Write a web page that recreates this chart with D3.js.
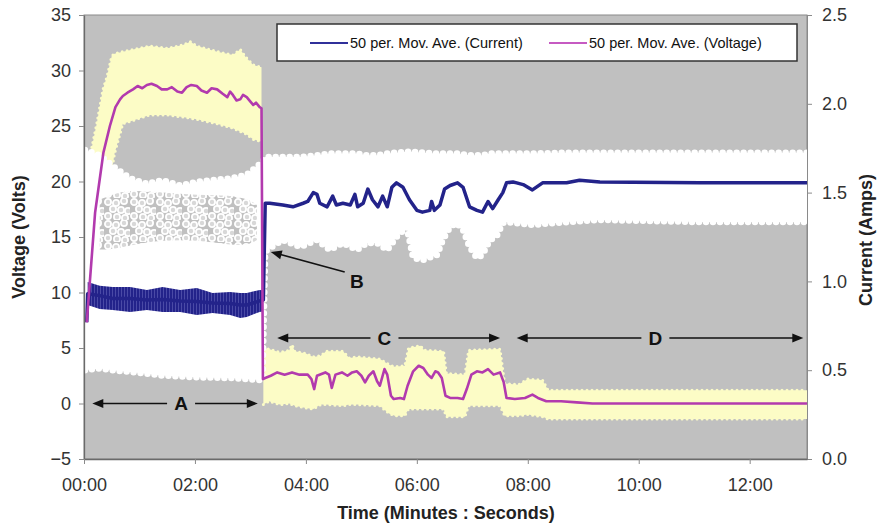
<!DOCTYPE html>
<html>
<head>
<meta charset="utf-8">
<script src="https://cdn.jsdelivr.net/npm/d3@7/dist/d3.min.js"></script>
<style>
  html, body { margin: 0; padding: 0; background: #fff; }
  svg text { font-family: "Liberation Sans", Arial, Helvetica, sans-serif; }
</style>
</head>
<body>
<svg id="chart" width="882" height="524"></svg>
<script>
// ---------- axis ticks ----------
const voltageTicks = [-5, 0, 5, 10, 15, 20, 25, 30, 35];
const currentTicks = [0, 0.5, 1.0, 1.5, 2.0, 2.5];
const timeTicks = [0, 120, 240, 360, 480, 600, 720];   // seconds
const timeMax = 782;

// ---------- voltage, 50-point moving average (time s, volts) ----------
const vMaTime = [3, 12, 17, 21, 28, 34, 39, 42, 47, 53, 58, 63, 68, 73, 79, 84, 90, 95, 101, 106,
  111, 116, 122, 127, 133, 138, 144, 150, 155, 158, 161, 165, 169, 172, 176, 180, 183, 186, 190, 192,
  193.5, 196, 202, 209, 217, 225, 233, 242, 246, 249, 252, 261, 265, 268, 272, 279, 285, 290, 295,
  300, 304, 308, 313, 317, 320, 325, 328, 332, 335, 342, 346, 350, 356, 362, 367, 372, 376, 380,
  383, 387, 391, 396, 404, 410, 414, 419, 425, 431, 437, 443, 450, 454, 457, 466, 477, 485, 491,
  500, 516, 533, 550, 782];
const vMa = [7.3, 17.2, 20.2, 22.6, 25.0, 26.7, 27.4, 27.7, 28.0, 28.3, 28.6, 28.4, 28.7, 28.8, 28.6, 28.3, 28.3, 28.5, 28.1, 28.0,
  28.5, 28.7, 28.6, 28.2, 28.0, 28.4, 28.3, 27.9, 27.6, 28.1, 27.8, 27.3, 27.4, 27.8, 27.6, 27.2, 26.9, 27.1, 26.7, 26.6,
  2.2, 2.3, 2.5, 2.8, 2.6, 2.8, 2.6, 2.6, 2.2, 1.3, 2.5, 2.8, 2.6, 1.4, 2.6, 2.8, 2.5, 2.8, 2.9,
  2.5, 1.9, 2.5, 2.9, 2.0, 1.6, 3.1, 2.6, 0.7, 0.4, 0.5, 0.4, 1.6, 2.9, 3.4, 3.2, 2.6, 2.3, 2.9,
  2.8, 2.3, 0.7, 0.5, 0.5, 0.4, 1.3, 2.6, 2.9, 2.8, 3.1, 2.6, 2.8, 1.9, 0.5, 0.4, 0.5, 0.8, 0.5,
  0.2, 0.2, 0.1, 0.0, 0.0];

// ---------- raw voltage samples: upper / lower envelope (volts) ----------
const vRawTime = [3, 6.5, 14, 20.5, 25, 30, 33, 42, 53, 71, 90, 107, 115, 122, 144, 161, 169, 175, 183, 192,
  null,
  194, 200, 212, 222, 225, 228, 240, 248, 256, 262, 280, 287, 296, 320, 330, 336, 347, 351, 364, 368,
  389, 392, 412, 416, 450, 455, 470, 480, 496, 502, 782];
const vRawHi = [17.7, 22.3, 25.3, 28.3, 29.5, 31.3, 31.5, 31.7, 31.9, 32.2, 32.0, 32.3, 32.6, 32.2, 31.7, 31.4, 31.9, 31.2, 30.5, 30.3,
  null,
  5.0, 4.9, 4.6, 4.8, 5.3, 4.7, 4.5, 4.2, 4.3, 4.7, 4.7, 4.1, 4.2, 4.0, 3.5, 3.3, 3.4, 5.0, 5.2, 4.8,
  4.7, 2.7, 2.6, 4.8, 4.9, 1.8, 1.7, 2.2, 2.1, 1.2, 1.2];
const vRawLo = [4, 6, 12, 16, 19, 21, 22.5, 25.2, 25.5, 26.0, 26.0, 25.8, 25.7, 25.6, 25.2, 24.8, 24.5, 24.3, 23.8, 23.6,
  null,
  -0.1, 0.2, -0.1, 0.0, -0.1, -0.2, -0.4, -0.5, -0.1, -0.1, -0.2, -0.1, -0.1, -0.2, -0.9, -1.1, -1.1, -0.5, -0.5, -0.5,
  -0.5, -1.2, -1.2, -0.2, -0.2, -1.1, -1.1, -1.0, -1.2, -1.4, -1.4];

// ---------- current, 50-point moving average (time s, amps) ----------
const iMaTime = [3, 4, 17, 31, 50, 68, 85, 104, 122, 139, 158, 169, 176, 190, 194,
  196, 201, 215, 226, 237, 242, 248, 252, 255, 263, 269, 273, 280, 288, 293, 296, 302, 307, 312, 318,
  323, 328, 333, 338, 345, 352, 360, 366, 374, 376, 379, 385, 390, 396, 404, 410, 417, 425, 431, 437,
  442, 448, 453, 457, 464, 468, 475, 485, 496, 522, 536, 558, 666, 782];
const iMa = [0.77, 0.93, 0.92, 0.904, 0.904, 0.895, 0.898, 0.89, 0.887, 0.878, 0.876, 0.867, 0.867, 0.89, 0.895,
  1.44, 1.44, 1.43, 1.42, 1.44, 1.45, 1.50, 1.49, 1.44, 1.42, 1.48, 1.43, 1.44, 1.43, 1.49, 1.42, 1.44, 1.52, 1.46, 1.42,
  1.48, 1.42, 1.53, 1.555, 1.53, 1.46, 1.40, 1.39, 1.40, 1.45, 1.40, 1.43, 1.52, 1.54, 1.555, 1.53, 1.42, 1.40, 1.39, 1.45,
  1.41, 1.46, 1.50, 1.555, 1.56, 1.555, 1.545, 1.515, 1.555, 1.555, 1.57, 1.56, 1.555, 1.555];

// swing of the current moving average during the first stage (amps)
const iSwingTime = [4, 17, 31, 50, 68, 85, 104, 122, 139, 158, 169, 176, 190, 193];
const iSwingHi = [0.997, 0.975, 0.968, 0.968, 0.952, 0.968, 0.952, 0.963, 0.935, 0.941, 0.935, 0.935, 0.952, 0.95];
const iSwingLo = [0.867, 0.845, 0.839, 0.828, 0.839, 0.828, 0.828, 0.811, 0.822, 0.811, 0.794, 0.80, 0.828, 0.83];

// ---------- raw current samples: upper / lower envelope (amps) ----------
const iRawTime = [1, 17, 31, 50, 68, 85, 104, 122, 139, 158, 176, 190, 193,
  196, 198, 215, 234, 252, 266, 280, 295, 306, 317, 328, 338, 349, 356, 366, 382, 388, 396, 403,
  410, 417, 425, 431, 439, 446, 453, 457, 485, 522, 558, 666, 782];
const iRawHi = [1.74, 1.71, 1.65, 1.58, 1.55, 1.57, 1.54, 1.56, 1.57, 1.58, 1.60, 1.66, 1.67,
  1.70, 1.70, 1.70, 1.70, 1.71, 1.72, 1.72, 1.72, 1.71, 1.71, 1.72, 1.725, 1.73, 1.73, 1.725, 1.72, 1.72, 1.72, 1.72,
  1.715, 1.71, 1.71, 1.71, 1.72, 1.72, 1.72, 1.72, 1.72, 1.725, 1.725, 1.725, 1.725];
const iRawLo = [0.50, 0.51, 0.50, 0.49, 0.48, 0.47, 0.465, 0.46, 0.458, 0.456, 0.45, 0.445, 0.445,
  1.16, 1.177, 1.233, 1.194, 1.233, 1.177, 1.216, 1.177, 1.216, 1.216, 1.177, 1.25, 1.306, 1.132, 1.12, 1.149, 1.233, 1.306, 1.329,
  1.289, 1.194, 1.132, 1.149, 1.233, 1.25, 1.329, 1.334, 1.318, 1.334, 1.346, 1.334, 1.334];

// sparse middle of the raw current cloud during the first stage (amps)
const iGapTime = [17, 31, 50, 85, 122, 158, 179, 187];
const iGapHi = [1.46, 1.49, 1.515, 1.50, 1.486, 1.486, 1.46, 1.43];
const iGapLo = [1.18, 1.18, 1.205, 1.233, 1.233, 1.205, 1.205, 1.233];

// ---------- stage markers ----------
const stages = [
  { label: "A", t0: 9, t1: 188, v: 0, tl: 105 },
  { label: "C", t0: 209, t1: 450, v: 5.9, tl: 325 },
  { label: "D", t0: 468, t1: 778, v: 5.9, tl: 618 }
];
const pointerB = { label: "B", tipT: 202, tipI: 1.166, tailT: 282, tailI: 1.053, labT: 295, labI: 1.0 };

// ---------- layout ----------
const svg = d3.select("#chart");
const plotL = 84, plotR = 807, plotT = 15, plotB = 459;
const x = d3.scaleLinear().domain([0, timeMax]).range([plotL, plotR]);
const yV = d3.scaleLinear().domain([-5, 35]).range([plotB, plotT]);
const yI = d3.scaleLinear().domain([0, 2.5]).range([plotB, plotT]);

const GREY = "#c0c0c0";
const BLUE = "#23238a";
const MAGENTA = "#b23aae";
const YELLOW = "#fcfcc6";

const defs = svg.append("defs");
defs.append("clipPath").attr("id", "plotClip")
  .append("rect").attr("x", plotL).attr("y", plotT).attr("width", plotR - plotL).attr("height", plotB - plotT);

// open ring markers scattered on grey for the sparse part of the current cloud
const poreTile = [26, 22];
const poreRings = [[4, 4], [12, 5], [20, 3], [9, 11], [17, 12], [24, 13], [4, 18], [13, 19], [21, 20]];
const pores = defs.append("pattern").attr("id", "pores")
  .attr("patternUnits", "userSpaceOnUse").attr("width", poreTile[0]).attr("height", poreTile[1]);
pores.append("rect").attr("width", poreTile[0]).attr("height", poreTile[1]).attr("fill", GREY);
poreRings.forEach(([cx, cy]) => {
  pores.append("circle").attr("cx", cx).attr("cy", cy).attr("r", 3.1)
    .attr("fill", "#d8d8d8").attr("stroke", "#fff").attr("stroke-width", 1.8);
});

// fine vertical streaks for the oscillating current average
const streaks = defs.append("pattern").attr("id", "streaks")
  .attr("patternUnits", "userSpaceOnUse").attr("width", 3).attr("height", 20);
streaks.append("rect").attr("width", 3).attr("height", 20).attr("fill", BLUE);
streaks.append("rect").attr("x", 1).attr("width", 1).attr("height", 20).attr("fill", "#4a4aa6");

// plot background
svg.append("rect").attr("x", plotL).attr("y", plotT).attr("width", plotR - plotL).attr("height", plotB - plotT)
  .attr("fill", GREY).attr("stroke", "#8a8a8a").attr("stroke-width", 1);

const plot = svg.append("g").attr("clip-path", "url(#plotClip)");

function zip(ts, a, b) {
  return ts.map((t, i) => ({ t, a: a[i], b: b ? b[i] : null }));
}

// raw voltage envelope
const vRaw = zip(vRawTime, vRawHi, vRawLo);
plot.append("path").datum(vRaw)
  .attr("fill", YELLOW)
  .attr("d", d3.area().defined(d => d.t !== null)
    .x(d => x(d.t)).y0(d => yV(d.b)).y1(d => yV(d.a)));
[d => yV(d.a), d => yV(d.b)].forEach(yf => {
  plot.append("path").datum(vRaw)
    .attr("fill", "none").attr("stroke", YELLOW).attr("stroke-width", 3)
    .attr("stroke-dasharray", "0 5").attr("stroke-linecap", "round")
    .attr("d", d3.line().defined(d => d.t !== null).x(d => x(d.t)).y(yf));
});

// raw current envelope
const iRaw = zip(iRawTime, iRawHi, iRawLo);
plot.append("path").datum(iRaw)
  .attr("fill", "#fff")
  .attr("d", d3.area().x(d => x(d.t)).y0(d => yI(d.b)).y1(d => yI(d.a)));
// ring-shaped markers make the cloud edges scalloped
[d => yI(d.a), d => yI(d.b)].forEach(yf => {
  plot.append("path").datum(iRaw)
    .attr("fill", "none").attr("stroke", "#fff").attr("stroke-width", 6.5)
    .attr("stroke-dasharray", "0 7").attr("stroke-linecap", "round")
    .attr("d", d3.line().x(d => x(d.t)).y(yf));
});
plot.append("path").datum(zip(iGapTime, iGapHi, iGapLo))
  .attr("fill", "url(#pores)")
  .attr("d", d3.area().curve(d3.curveBasis).x(d => x(d.t)).y0(d => yI(d.b)).y1(d => yI(d.a)));

// current moving average
plot.append("path").datum(zip(iSwingTime, iSwingHi, iSwingLo))
  .attr("fill", "url(#streaks)")
  .attr("d", d3.area().x(d => x(d.t)).y0(d => yI(d.b)).y1(d => yI(d.a)));
plot.append("path").datum(zip(iMaTime, iMa))
  .attr("fill", "none").attr("stroke", BLUE).attr("stroke-width", 3.5).attr("stroke-linejoin", "round")
  .attr("d", d3.line().x(d => x(d.t)).y(d => yI(d.a)));

// voltage moving average
plot.append("path").datum(zip(vMaTime, vMa))
  .attr("fill", "none").attr("stroke", MAGENTA).attr("stroke-width", 2.6).attr("stroke-linejoin", "round")
  .attr("d", d3.line().x(d => x(d.t)).y(d => yV(d.a)));

// ---------- stage markers ----------
const ann = svg.append("g");
function arrowHead(g, x1, y1, x2, y2) {
  // triangle pointing from (x1,y1) to (x2,y2)
  const ang = Math.atan2(y2 - y1, x2 - x1), len = 11, half = 4.5;
  const bx = x2 - len * Math.cos(ang), by = y2 - len * Math.sin(ang);
  const px = -Math.sin(ang) * half, py = Math.cos(ang) * half;
  g.append("path").attr("fill", "#111")
    .attr("d", `M${x2},${y2}L${bx + px},${by + py}L${bx - px},${by - py}Z`);
}
stages.forEach(s => {
  const y = yV(s.v), xa = x(s.t0), xb = x(s.t1), xl = x(s.tl);
  ann.append("line").attr("x1", xa + 6).attr("x2", xl - 14).attr("y1", y).attr("y2", y)
    .attr("stroke", "#111").attr("stroke-width", 1.5);
  ann.append("line").attr("x1", xl + 14).attr("x2", xb - 6).attr("y1", y).attr("y2", y)
    .attr("stroke", "#111").attr("stroke-width", 1.5);
  arrowHead(ann, xl, y, xa, y);
  arrowHead(ann, xl, y, xb, y);
  ann.append("text").attr("x", xl).attr("y", y).attr("text-anchor", "middle")
    .attr("dominant-baseline", "central").attr("font-size", 19).attr("font-weight", "bold")
    .attr("fill", "#111").text(s.label);
});
{
  const tx = x(pointerB.tipT), ty = yI(pointerB.tipI);
  const sx = x(pointerB.tailT), sy = yI(pointerB.tailI);
  ann.append("line").attr("x1", sx).attr("y1", sy).attr("x2", tx + 6).attr("y2", ty + 1.5)
    .attr("stroke", "#111").attr("stroke-width", 1.5);
  arrowHead(ann, sx, sy, tx, ty);
  ann.append("text").attr("x", x(pointerB.labT)).attr("y", yI(pointerB.labI))
    .attr("text-anchor", "middle").attr("dominant-baseline", "central")
    .attr("font-size", 19).attr("font-weight", "bold").attr("fill", "#111").text(pointerB.label);
}

// ---------- axes ----------
const fmtTime = s => d3.format("02d")(Math.floor(s / 60)) + ":" + d3.format("02d")(Math.round(s % 60));
function styleAxis(g) {
  g.select(".domain").attr("stroke", "#6a6a6a").attr("stroke-width", 1.3);
  g.selectAll(".tick line").attr("stroke", "#8a8a8a");
  g.selectAll(".tick text").attr("fill", "#333").attr("font-size", 18)
    .attr("font-family", "'Liberation Sans', Arial, sans-serif");
}
svg.append("g").attr("transform", `translate(${plotL},0)`)
  .call(d3.axisLeft(yV).tickValues(voltageTicks).tickSize(5).tickPadding(8).tickSizeOuter(0))
  .call(styleAxis);
svg.append("g").attr("transform", `translate(${plotR},0)`)
  .call(d3.axisRight(yI).tickValues(currentTicks).tickFormat(d3.format(".1f")).tickSize(5).tickPadding(10).tickSizeOuter(0))
  .call(styleAxis)
  .call(g => g.select(".domain").attr("stroke", "#8a8a8a").attr("stroke-width", 1));
svg.append("g").attr("transform", `translate(0,${plotB})`)
  .call(d3.axisBottom(x).tickValues(timeTicks).tickFormat(fmtTime).tickSize(5).tickPadding(14).tickSizeOuter(0))
  .call(styleAxis);

// axis titles
svg.append("text").attr("transform", "translate(19,237) rotate(-90)")
  .attr("text-anchor", "middle").attr("dominant-baseline", "central")
  .attr("font-size", 18).attr("font-weight", "bold").attr("fill", "#222").text("Voltage (Volts)");
svg.append("text").attr("transform", "translate(866,240) rotate(-90)")
  .attr("text-anchor", "middle").attr("dominant-baseline", "central")
  .attr("font-size", 18).attr("font-weight", "bold").attr("fill", "#222").text("Current (Amps)");
svg.append("text").attr("x", 446).attr("y", 519).attr("text-anchor", "middle")
  .attr("font-size", 18).attr("font-weight", "bold").attr("fill", "#222").text("Time (Minutes : Seconds)");

// ---------- legend ----------
const legendItems = [
  { name: "50 per. Mov. Ave. (Current)", color: "#30309a", x0: 310 },
  { name: "50 per. Mov. Ave. (Voltage)", color: "#c65ac2", x0: 549 }
];
const lg = svg.append("g");
lg.append("rect").attr("x", 277).attr("y", 24).attr("width", 520).attr("height", 37)
  .attr("fill", "#fff").attr("stroke", "#333").attr("stroke-width", 1.5);
legendItems.forEach(it => {
  lg.append("line").attr("x1", it.x0).attr("x2", it.x0 + 38).attr("y1", 43).attr("y2", 43)
    .attr("stroke", it.color).attr("stroke-width", 2.2);
  lg.append("text").attr("x", it.x0 + 40).attr("y", 43).attr("dominant-baseline", "central")
    .attr("font-size", 14.5).attr("fill", "#111").text(it.name);
});
</script>
</body>
</html>
